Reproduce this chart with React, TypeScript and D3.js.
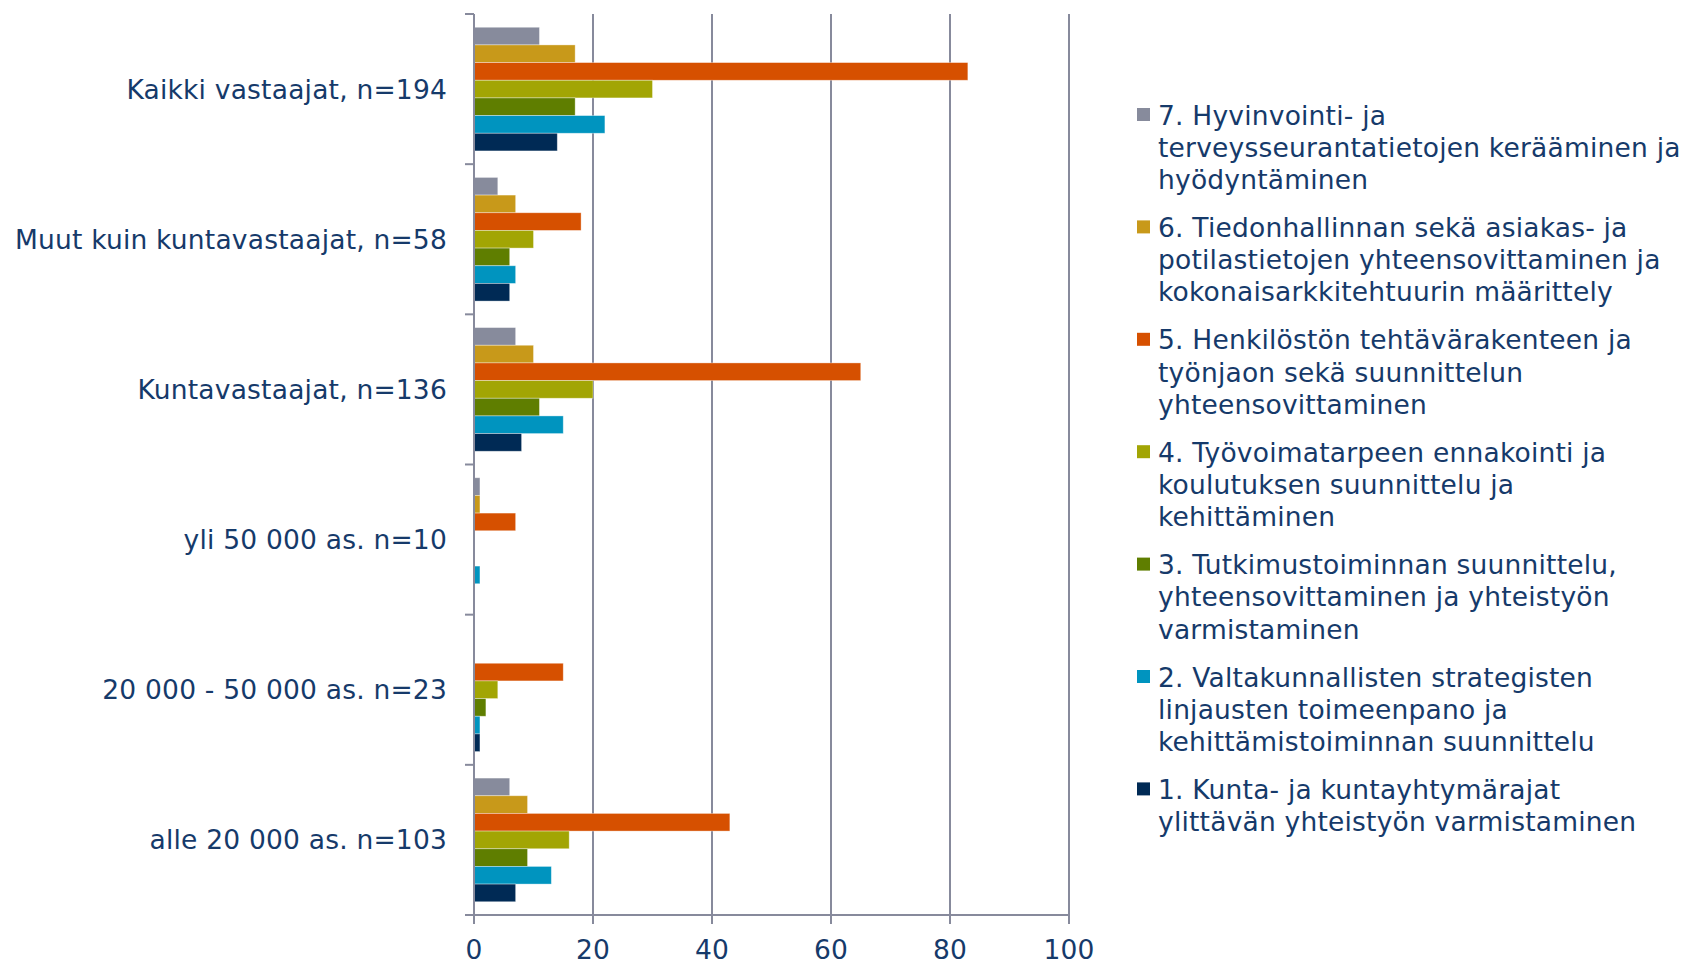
import * as d3 from 'd3'

// categories, top to bottom
const categories = [
  'Kaikki vastaajat, n=194',
  'Muut kuin kuntavastaajat, n=58',
  'Kuntavastaajat, n=136',
  'yli 50 000 as. n=10',
  '20 000 - 50 000 as. n=23',
  'alle 20 000 as. n=103',
]

// series in drawing order inside a group (top to bottom), same as legend order
const seriesLabels = [
  ['7. Hyvinvointi- ja', 'terveysseurantatietojen kerääminen ja', 'hyödyntäminen'],
  ['6. Tiedonhallinnan sekä asiakas- ja', 'potilastietojen yhteensovittaminen ja', 'kokonaisarkkitehtuurin määrittely'],
  ['5. Henkilöstön tehtävärakenteen ja', 'työnjaon sekä suunnittelun', 'yhteensovittaminen'],
  ['4. Työvoimatarpeen ennakointi ja', 'koulutuksen suunnittelu ja', 'kehittäminen'],
  ['3. Tutkimustoiminnan suunnittelu,', 'yhteensovittaminen ja yhteistyön', 'varmistaminen'],
  ['2. Valtakunnallisten strategisten', 'linjausten toimeenpano ja', 'kehittämistoiminnan suunnittelu'],
  ['1. Kunta- ja kuntayhtymärajat', 'ylittävän yhteistyön varmistaminen'],
]
const seriesKeys = ['s7', 's6', 's5', 's4', 's3', 's2', 's1']
const seriesColors = ['#878b9c', '#c8991a', '#d65000', '#a2a504', '#5f7e00', '#0094bf', '#002a55']

// values per series, one per category (same order as categories)
const s7 = [11, 4, 7, 1, 0, 6]
const s6 = [17, 7, 10, 1, 0, 9]
const s5 = [83, 18, 65, 7, 15, 43]
const s4 = [30, 10, 20, 0, 4, 16]
const s3 = [17, 6, 11, 0, 2, 9]
const s2 = [22, 7, 15, 1, 1, 13]
const s1 = [14, 6, 8, 0, 1, 7]
const seriesValues = [s7, s6, s5, s4, s3, s2, s1]

const xTicks = [0, 20, 40, 60, 80, 100]

const W = 1684
const H = 963
const textColor = '#163a6a'
const axisColor = '#878a9c'
const font = '"DejaVu Sans", Verdana, sans-serif'
const fs = 26.5

export default function App() {
  const x = d3.scaleLinear().domain([0, 100]).range([474, 1069])
  const y = d3.scaleBand<string>().domain(categories).range([14, 915]).paddingInner(0).paddingOuter(0)
  const inner = d3.scaleBand<string>().domain(seriesKeys).range([0, y.bandwidth()]).paddingInner(0).paddingOuter(0.75)
  const [top, bottom] = y.range()

  return (
    <svg width={W} height={H} style={{ position: 'fixed', left: 0, top: 0, background: '#fff' }} fontFamily={font} letterSpacing={0.2}>
      {/* vertical gridlines */}
      {xTicks.slice(1).map(t => (
        <line key={'g' + t} x1={x(t)} x2={x(t)} y1={top} y2={bottom} stroke={axisColor} strokeWidth={2} />
      ))}

      {/* bars */}
      {categories.map((c, ci) => (
        <g key={c} transform={`translate(0,${y(c)})`}>
          {seriesKeys.map((k, si) => {
            const v = seriesValues[si][ci]
            if (!v) return null
            return (
              <rect
                key={k}
                x={x(0)}
                y={inner(k)}
                width={x(v) - x(0)}
                height={inner.bandwidth()}
                fill={seriesColors[si]}
                stroke="#fff"
                strokeOpacity={0.45}
                strokeWidth={0.8}
              />
            )
          })}
        </g>
      ))}

      {/* y axis */}
      <line x1={x(0)} x2={x(0)} y1={top} y2={bottom} stroke={axisColor} strokeWidth={2} />
      {d3.range(categories.length + 1).map(i => {
        const yy = top + i * y.step()
        return <line key={'yt' + i} x1={x(0) - 9} x2={x(0)} y1={yy} y2={yy} stroke={axisColor} strokeWidth={2} />
      })}
      {categories.map(c => (
        <text key={'l' + c} x={447} y={(y(c) ?? 0) + y.bandwidth() / 2} dy="0.36em" textAnchor="end" fontSize={fs} fill={textColor}>
          {c}
        </text>
      ))}

      {/* x axis */}
      <line x1={x(0) - 9} x2={x(100)} y1={bottom} y2={bottom} stroke={axisColor} strokeWidth={2} />
      {xTicks.map(t => (
        <g key={'xt' + t}>
          <line x1={x(t)} x2={x(t)} y1={bottom} y2={bottom + 9} stroke={axisColor} strokeWidth={2} />
          <text x={x(t)} y={949} dy="0.36em" textAnchor="middle" fontSize={fs} fill={textColor}>
            {t}
          </text>
        </g>
      ))}

      {/* legend */}
      {seriesLabels.map((lines, si) => {
        const y0 = 115 + si * 112.4
        return (
          <g key={'lg' + si}>
            <rect x={1137} y={y0 - 7} width={13} height={13} fill={seriesColors[si]} />
            {lines.map((ln, li) => (
              <text key={li} x={1158} y={y0 + li * 32.2} dy="0.36em" fontSize={fs} fill={textColor}>
                {ln}
              </text>
            ))}
          </g>
        )
      })}
    </svg>
  )
}
